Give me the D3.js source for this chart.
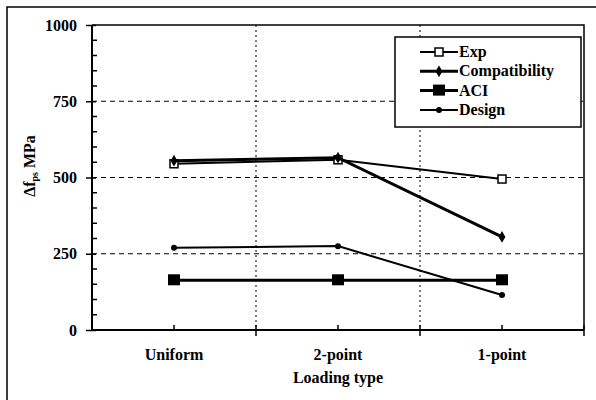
<!DOCTYPE html>
<html><head><meta charset="utf-8">
<script src="https://cdn.jsdelivr.net/npm/d3@7"></script>
<style>body{margin:0;background:#fff}svg{display:block}</style>
</head><body><svg id="c" width="596" height="400"></svg>
<script>
const categories = ["Uniform", "2-point", "1-point"];
const expValues = [545, 558, 495];
const compatibilityValues = [555, 565, 305];
const aciValues = [163, 163, 163];
const designValues = [270, 275, 115];
const yTicks = [0, 250, 500, 750, 1000];
const seriesNames = ["Exp", "Compatibility", "ACI", "Design"];

const FONT = "Liberation Serif";
const svg = d3.select("#c");
const L = 92, R = 584, T = 25, B = 330;
const x = d3.scaleBand().domain(categories).range([L, R]);
const y = d3.scaleLinear().domain([0, 1000]).range([B, T]);

svg.append("rect").attr("x", 7).attr("y", 7).attr("width", 600).attr("height", 400)
  .attr("fill", "none").attr("stroke", "#000").attr("stroke-width", 1.5);

svg.append("path").attr("d", `M${L},${T}H${R}V${B}`).attr("fill", "none").attr("stroke", "#000").attr("stroke-width", 1.5);

svg.append("g").selectAll("line").data(yTicks.filter(d => d > 0 && d < 1000)).join("line")
  .attr("x1", L).attr("x2", R).attr("y1", d => y(d)).attr("y2", d => y(d))
  .attr("stroke", "#000").attr("stroke-width", 1).attr("stroke-dasharray", "5,4");

const bounds = categories.slice(1).map(c => x(c));
svg.append("g").selectAll("line").data(bounds).join("line")
  .attr("x1", d => d).attr("x2", d => d).attr("y1", T).attr("y2", B)
  .attr("stroke", "#000").attr("stroke-width", 1).attr("stroke-dasharray", "2,3");

const yAxis = d3.axisLeft(y).tickValues(yTicks).tickSize(6).tickPadding(9).tickFormat(d3.format("d"));
const gy = svg.append("g").attr("transform", `translate(${L},0)`).call(yAxis)
  .attr("font-family", FONT).attr("font-size", 16).attr("font-weight", "bold");
gy.select(".domain").attr("stroke-width", 2).attr("d", `M0,${T}V${B}`);
gy.selectAll(".tick line").attr("stroke-width", 1.5).attr("x2", -6).attr("x1", 4);
gy.selectAll("text").attr("font-family", FONT);
const minor = d3.range(50, 1000, 50).filter(d => d % 250 !== 0);
svg.append("g").selectAll("line").data(minor).join("line")
  .attr("x1", L).attr("x2", L + 5).attr("y1", d => y(d)).attr("y2", d => y(d))
  .attr("stroke", "#000").attr("stroke-width", 1.5);

const xAxis = d3.axisBottom(x).tickSize(0).tickPadding(19);
const gx = svg.append("g").attr("transform", `translate(0,${B})`).call(xAxis)
  .attr("font-family", FONT).attr("font-size", 16).attr("font-weight", "bold");
gx.select(".domain").attr("stroke-width", 2).attr("d", `M${L},0H${R}`);
gx.selectAll("text").attr("font-family", FONT);
svg.append("g").selectAll("line").data(categories).join("line")
  .attr("x1", d => x(d) + x.bandwidth() / 2).attr("x2", d => x(d) + x.bandwidth() / 2)
  .attr("y1", B).attr("y2", B - 5).attr("stroke", "#000").attr("stroke-width", 1.5);
svg.append("g").selectAll("line").data(bounds.concat([R])).join("line")
  .attr("x1", d => d).attr("x2", d => d).attr("y1", B - 5).attr("y2", B + 6)
  .attr("stroke", "#000").attr("stroke-width", 1.5);

svg.append("text").attr("x", (L + R) / 2).attr("y", 383).attr("text-anchor", "middle")
  .attr("font-size", 16).attr("font-family", FONT).attr("font-weight", "bold").text("Loading type");
const yt = svg.append("text").attr("transform", `translate(35,166) rotate(-90)`).attr("text-anchor", "middle")
  .attr("font-size", 16).attr("font-family", FONT).attr("font-weight", "bold");
yt.append("tspan").text("Δf");
yt.append("tspan").attr("font-size", 10).attr("dy", 3).text("ps");
yt.append("tspan").attr("dy", -3).text(" MPa");

const cx = c => x(c) + x.bandwidth() / 2;
const series = [
  {name: seriesNames[0], values: expValues, w: 2, marker: "openSquare"},
  {name: seriesNames[1], values: compatibilityValues, w: 3, marker: "diamond"},
  {name: seriesNames[2], values: aciValues, w: 3, marker: "square"},
  {name: seriesNames[3], values: designValues, w: 2, marker: "circle"}
];
const line = d3.line().x((d, i) => cx(categories[i])).y(d => y(d));

function drawMarker(g, type, px, py) {
  if (type === "square") g.append("rect").attr("x", px - 6).attr("y", py - 6).attr("width", 12).attr("height", 11).attr("fill", "#000");
  else if (type === "openSquare") g.append("rect").attr("x", px - 4).attr("y", py - 4).attr("width", 8).attr("height", 8).attr("fill", "#fff").attr("stroke", "#000").attr("stroke-width", 1.5);
  else if (type === "diamond") g.append("path").attr("d", d3.symbol(d3.symbolDiamond, 40)()).attr("transform", `translate(${px},${py})`).attr("fill", "#000");
  else g.append("circle").attr("cx", px).attr("cy", py).attr("r", 3).attr("fill", "#000");
}

const gs = svg.append("g");
[2, 3, 0, 1].forEach(k => {
  const s = series[k];
  gs.append("path").attr("d", line(s.values)).attr("fill", "none").attr("stroke", "#000").attr("stroke-width", s.w);
  s.values.forEach((v, i) => drawMarker(gs, s.marker, cx(categories[i]), y(v)));
});

const lg = svg.append("g");
lg.append("rect").attr("x", 395).attr("y", 37).attr("width", 186).attr("height", 90)
  .attr("fill", "#fff").attr("stroke", "#000").attr("stroke-width", 1.5);
series.forEach((s, i) => {
  const ly = 52 + i * 19.3;
  lg.append("line").attr("x1", 420).attr("x2", 458).attr("y1", ly).attr("y2", ly).attr("stroke", "#000").attr("stroke-width", s.w);
  drawMarker(lg, s.marker, 439, ly);
  lg.append("text").attr("x", 459).attr("y", ly + 5).attr("font-size", 16).attr("font-family", FONT)
    .attr("font-weight", "bold").text(s.name);
});
</script></body></html>
